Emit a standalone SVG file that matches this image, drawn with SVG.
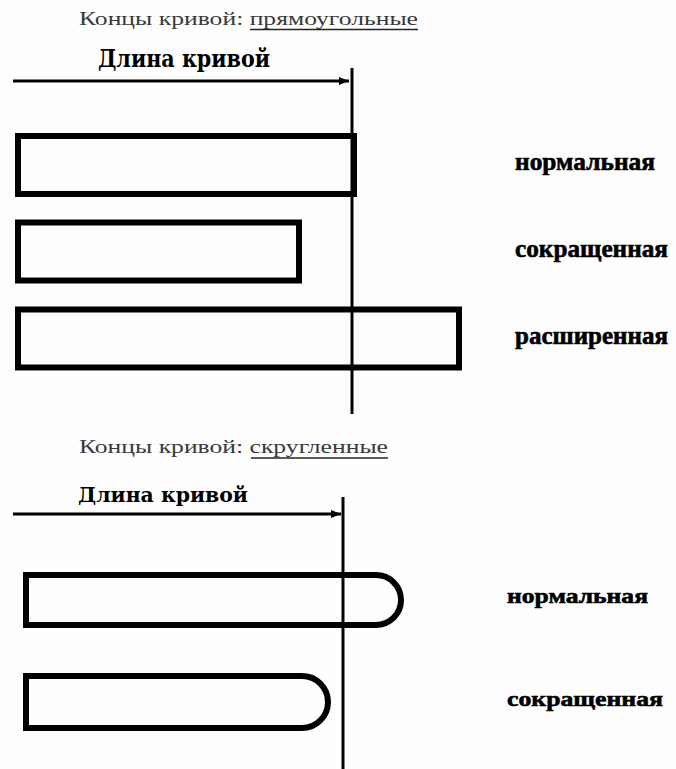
<svg xmlns="http://www.w3.org/2000/svg" width="676" height="769" viewBox="0 0 676 769">
<defs>
<style>
.title{font-family:"Liberation Serif","DejaVu Serif",serif;font-size:19px;fill:#3a3a3a}
.len{font-family:"DejaVu Serif","Liberation Serif",serif;font-weight:bold;fill:#000}
.lbl{font-family:"Liberation Serif","DejaVu Serif",serif;font-weight:bold;fill:#000;stroke:#000;stroke-width:0.6}
.shape{fill:none;stroke:#000;stroke-width:6}
.ref{stroke:#000;stroke-width:3;fill:none}
.ul{stroke:#222;stroke-width:1.5}
</style>
<marker id="arr" markerWidth="10" markerHeight="8" refX="10" refY="4" orient="auto" markerUnits="userSpaceOnUse">
<path d="M0,0 L10,4 L0,8 z" fill="#000"/>
</marker>
</defs>
<rect width="676" height="769" fill="#fdfefd"/>

<g id="top-section">
<g id="title-top">
<text class="title" x="79" y="25" textLength="339" lengthAdjust="spacingAndGlyphs">Концы кривой: прямоугольные</text>
<line class="ul" x1="250" y1="29.5" x2="418" y2="29.5"/>
</g>
<g id="length-top">
<text class="len" x="98" y="67" font-size="24" textLength="172" lengthAdjust="spacingAndGlyphs">Длина кривой</text>
</g>
<g id="rect-normal">
<rect class="shape" x="18" y="136" width="336" height="58"/>
<text class="lbl" x="515" y="170" font-size="25" textLength="140" lengthAdjust="spacingAndGlyphs">нормальная</text>
</g>
<g id="rect-short">
<rect class="shape" x="18" y="222.5" width="281" height="58"/>
<text class="lbl" x="515" y="257" font-size="25" textLength="153" lengthAdjust="spacingAndGlyphs">сокращенная</text>
</g>
<g id="rect-extended">
<rect class="shape" x="18" y="309.5" width="441" height="58"/>
<text class="lbl" x="515" y="344" font-size="25" textLength="153" lengthAdjust="spacingAndGlyphs">расширенная</text>
</g>
</g>

<g id="bottom-section">
<g id="title-bottom">
<text class="title" x="79" y="453" textLength="309" lengthAdjust="spacingAndGlyphs">Концы кривой: скругленные</text>
<line class="ul" x1="251" y1="458" x2="388" y2="458"/>
</g>
<g id="length-bottom">
<text class="len" x="78" y="502" font-size="21" textLength="170" lengthAdjust="spacingAndGlyphs">Длина кривой</text>
</g>
<g id="round-normal">
<path class="shape" d="M26,575 H376 A25,25 0 0 1 376,625 H26 Z"/>
<text class="lbl" x="507" y="603" font-size="22" textLength="141" lengthAdjust="spacingAndGlyphs">нормальная</text>
</g>
<g id="round-short">
<path class="shape" d="M26,676 H302 A26,26 0 0 1 302,728 H26 Z"/>
<text class="lbl" x="507" y="706" font-size="22" textLength="156" lengthAdjust="spacingAndGlyphs">сокращенная</text>
</g>
</g>

<g id="connectors">
<line class="ref" x1="352" y1="68" x2="352" y2="414"/>
<line class="ref" x1="13" y1="81" x2="349" y2="81" marker-end="url(#arr)"/>
<line class="ref" x1="343" y1="497" x2="343" y2="769"/>
<line class="ref" x1="13" y1="514" x2="341" y2="514" marker-end="url(#arr)"/>
</g>
</svg>
